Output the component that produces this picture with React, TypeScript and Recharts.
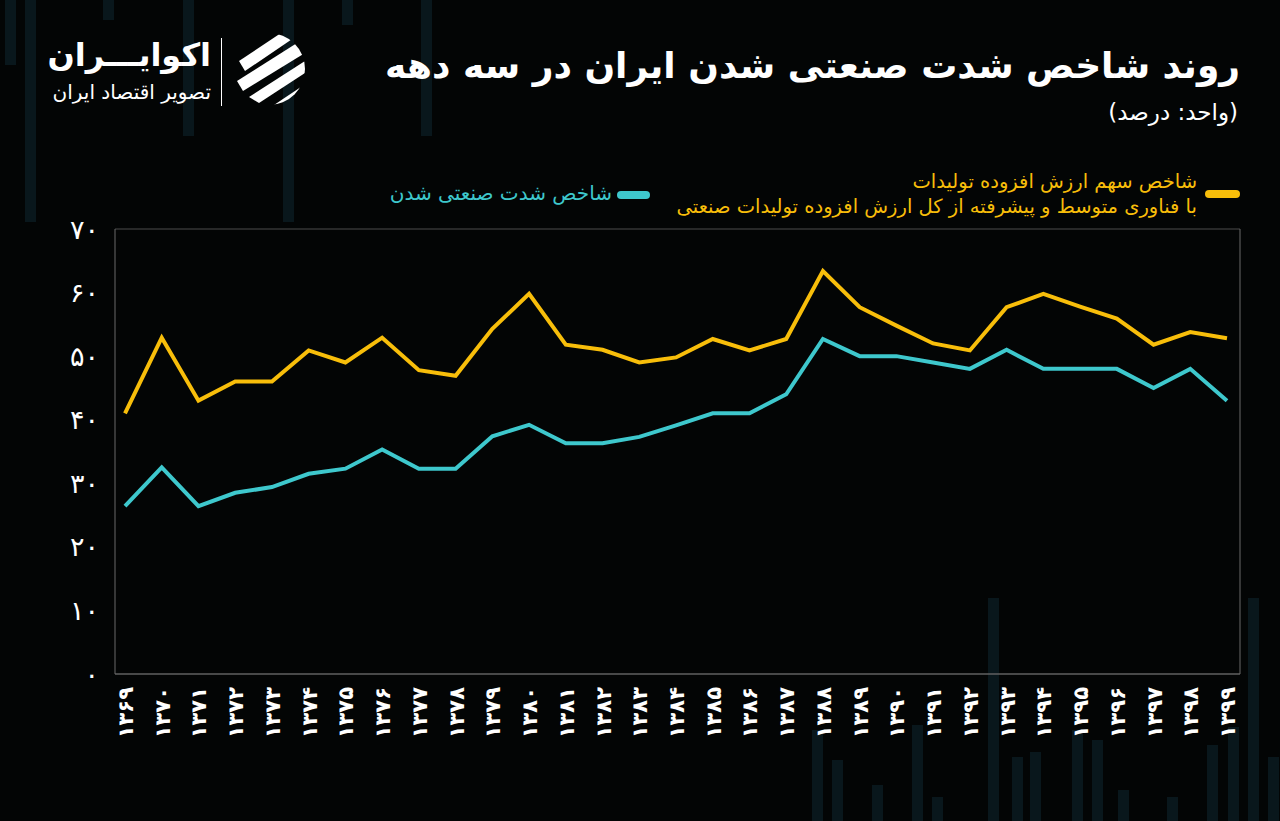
import React from 'react';
import { LineChart, Line, XAxis, YAxis, CartesianGrid } from 'recharts';

// سال‌ها (شمسی)
const years = [
  1369, 1370, 1371, 1372, 1373, 1374, 1375, 1376, 1377, 1378, 1379, 1380, 1381, 1382, 1383, 1384,
  1385, 1386, 1387, 1388, 1389, 1390, 1391, 1392, 1393, 1394, 1395, 1396, 1397, 1398, 1399
];

// سهم ارزش افزوده تولیدات با فناوری متوسط و پیشرفته
const techShare = [
  41, 52.9, 43, 46, 46, 50.9, 49, 52.9, 47.8, 46.9, 54.3, 59.8, 51.8, 51, 49, 49.8,
  52.7, 50.9, 52.7, 63.4, 57.7, 54.8, 52, 50.9, 57.7, 59.8, 57.8, 55.9, 51.8, 53.8, 52.8
];

// شاخص شدت صنعتی شدن
const industrialIntensity = [
  26.4, 32.5, 26.4, 28.5, 29.4, 31.5, 32.3, 35.3, 32.3, 32.3, 37.4, 39.2, 36.3, 36.3, 37.3, 39.1,
  41, 41, 44, 52.7, 50, 50, 49, 48, 51, 48, 48, 48, 45, 48, 43
];

const yTicks = [0, 10, 20, 30, 40, 50, 60, 70];

const YELLOW = '#f8be0a';
const CYAN = '#3ec8cd';
const FA_FONT = '"DejaVu Sans", sans-serif';

const toFa = (v: any) => String(v).replace(/\d/g, (d) => '۰۱۲۳۴۵۶۷۸۹'[Number(d)]);

const data = years.map((y, i) => ({
  year: y,
  share: techShare[i],
  intensity: industrialIntensity[i]
}));

// decorative faint bars of the background
const bgBars = [
  { x: 25, y: 0, h: 222 }, { x: 5, y: 0, h: 65 }, { x: 183, y: 0, h: 136 }, { x: 283, y: 0, h: 222 },
  { x: 342, y: 0, h: 25 }, { x: 421, y: 0, h: 136 }, { x: 103, y: 0, h: 20 },
  { x: 812, y: 730, h: 91 }, { x: 832, y: 760, h: 61 }, { x: 872, y: 785, h: 36 }, { x: 912, y: 725, h: 96 },
  { x: 932, y: 797, h: 24 }, { x: 988, y: 598, h: 223 }, { x: 1012, y: 757, h: 64 },
  { x: 1030, y: 752, h: 69 }, { x: 1072, y: 730, h: 91 }, { x: 1092, y: 740, h: 81 },
  { x: 1118, y: 790, h: 31 }, { x: 1167, y: 797, h: 24 }, { x: 1207, y: 745, h: 76 },
  { x: 1228, y: 727, h: 94 }, { x: 1248, y: 598, h: 223 }, { x: 1268, y: 757, h: 64 }
];

function YearTick({ x, y, payload }: any) {
  return (
    <text
      transform={`translate(${x + 8},${y + 5}) rotate(-90)`}
      textAnchor="end"
      fill="#ffffff"
      fontSize={21}
      fontWeight="bold"
      fontFamily={FA_FONT}
    >
      {toFa(payload.value)}
    </text>
  );
}

function Logo() {
  return (
    <svg width={76} height={76} viewBox="0 0 76 76" style={{ position: 'absolute', left: 231, top: 31 }}>
      <defs>
        <clipPath id="lg">
          <circle cx={38} cy={38} r={36} />
        </clipPath>
      </defs>
      <g clipPath="url(#lg)" fill="#ffffff">
        <polygon points="8,30 50,2 70,2 14,40" />
        <polygon points="6,50 66,12 74,22 12,60" />
        <polygon points="18,66 74,30 74,42 28,72" />
        <polygon points="40,76 76,52 76,62 54,76" />
      </g>
    </svg>
  );
}

export default function App() {
  return (
    <div
      style={{
        position: 'absolute',
        left: 0,
        top: 0,
        width: 1280,
        height: 821,
        background: '#030505',
        overflow: 'hidden',
        fontFamily: FA_FONT
      }}
    >
      {bgBars.map((b, i) => (
        <div
          key={i}
          style={{ position: 'absolute', left: b.x, top: b.y, width: 11, height: b.h, background: '#09171c' }}
        />
      ))}

      {/* title */}
      <div
        style={{
          position: 'absolute',
          right: 40,
          top: 45,
          color: '#fff',
          fontSize: 36,
          fontWeight: 'bold',
          direction: 'rtl',
          whiteSpace: 'nowrap'
        }}
      >
        روند شاخص شدت صنعتی شدن ایران در سه دهه
      </div>
      <div
        style={{
          position: 'absolute',
          right: 42,
          top: 99,
          color: '#fff',
          fontSize: 23,
          direction: 'rtl',
          whiteSpace: 'nowrap'
        }}
      >
        (واحد: درصد)
      </div>

      {/* brand */}
      <div
        style={{
          position: 'absolute',
          left: 48,
          top: 36,
          width: 163,
          textAlign: 'right',
          color: '#fff',
          fontSize: 32,
          fontWeight: 'bold',
          direction: 'rtl',
          whiteSpace: 'nowrap'
        }}
      >
        اکوایـــران
      </div>
      <div
        style={{
          position: 'absolute',
          left: 48,
          top: 80,
          width: 163,
          textAlign: 'right',
          color: '#fff',
          fontSize: 20,
          direction: 'rtl',
          whiteSpace: 'nowrap'
        }}
      >
        تصویر اقتصاد ایران
      </div>
      <div style={{ position: 'absolute', left: 221, top: 38, width: 1, height: 68, background: '#ffffff' }} />
      <Logo />

      {/* legend */}
      <div style={{ position: 'absolute', left: 1205, top: 190, width: 35, height: 8, borderRadius: 4, background: YELLOW }} />
      <div
        style={{
          position: 'absolute',
          right: 1280 - 1197,
          top: 169,
          color: YELLOW,
          fontSize: 19.5,
          lineHeight: '25px',
          direction: 'rtl',
          textAlign: 'right',
          whiteSpace: 'nowrap'
        }}
      >
        شاخص سهم ارزش افزوده تولیدات
        <br />
        با فناوری متوسط و پیشرفته از کل ارزش افزوده تولیدات صنعتی
      </div>
      <div style={{ position: 'absolute', left: 617, top: 191, width: 33, height: 8, borderRadius: 4, background: CYAN }} />
      <div
        style={{
          position: 'absolute',
          right: 1280 - 612,
          top: 181,
          color: CYAN,
          fontSize: 20,
          lineHeight: '25px',
          direction: 'rtl',
          whiteSpace: 'nowrap'
        }}
      >
        شاخص شدت صنعتی شدن
      </div>

      <div style={{ position: 'absolute', left: 0, top: 0 }}>
        <LineChart width={1280} height={821} data={data} margin={{ top: 229, right: 39, left: 55, bottom: 77 }}>
          <CartesianGrid vertical={false} stroke="#4d4d4d" strokeWidth={1} />
          <XAxis
            dataKey="year"
            height={70}
            interval={0}
            padding={{ left: 10, right: 13 }}
            axisLine={{ stroke: '#6a6a6a' }}
            tickLine={false}
            tick={<YearTick />}
          />
          <YAxis
            yAxisId="l"
            domain={[0, 70]}
            ticks={yTicks}
            width={60}
            tickSize={0}
            tickMargin={16}
            axisLine={{ stroke: '#6a6a6a' }}
            tickLine={false}
            tickFormatter={toFa}
            tick={{ fill: '#ffffff', fontSize: 27, fontFamily: FA_FONT }}
          />
          <YAxis
            yAxisId="r"
            orientation="right"
            domain={[0, 70]}
            width={1}
            tick={false}
            tickLine={false}
            axisLine={{ stroke: '#6a6a6a' }}
          />
          <Line
            yAxisId="l"
            type="linear"
            dataKey="share"
            stroke={YELLOW}
            strokeWidth={4}
            dot={false}
            isAnimationActive={false}
          />
          <Line
            yAxisId="l"
            type="linear"
            dataKey="intensity"
            stroke={CYAN}
            strokeWidth={4}
            dot={false}
            isAnimationActive={false}
          />
        </LineChart>
      </div>
    </div>
  );
}
